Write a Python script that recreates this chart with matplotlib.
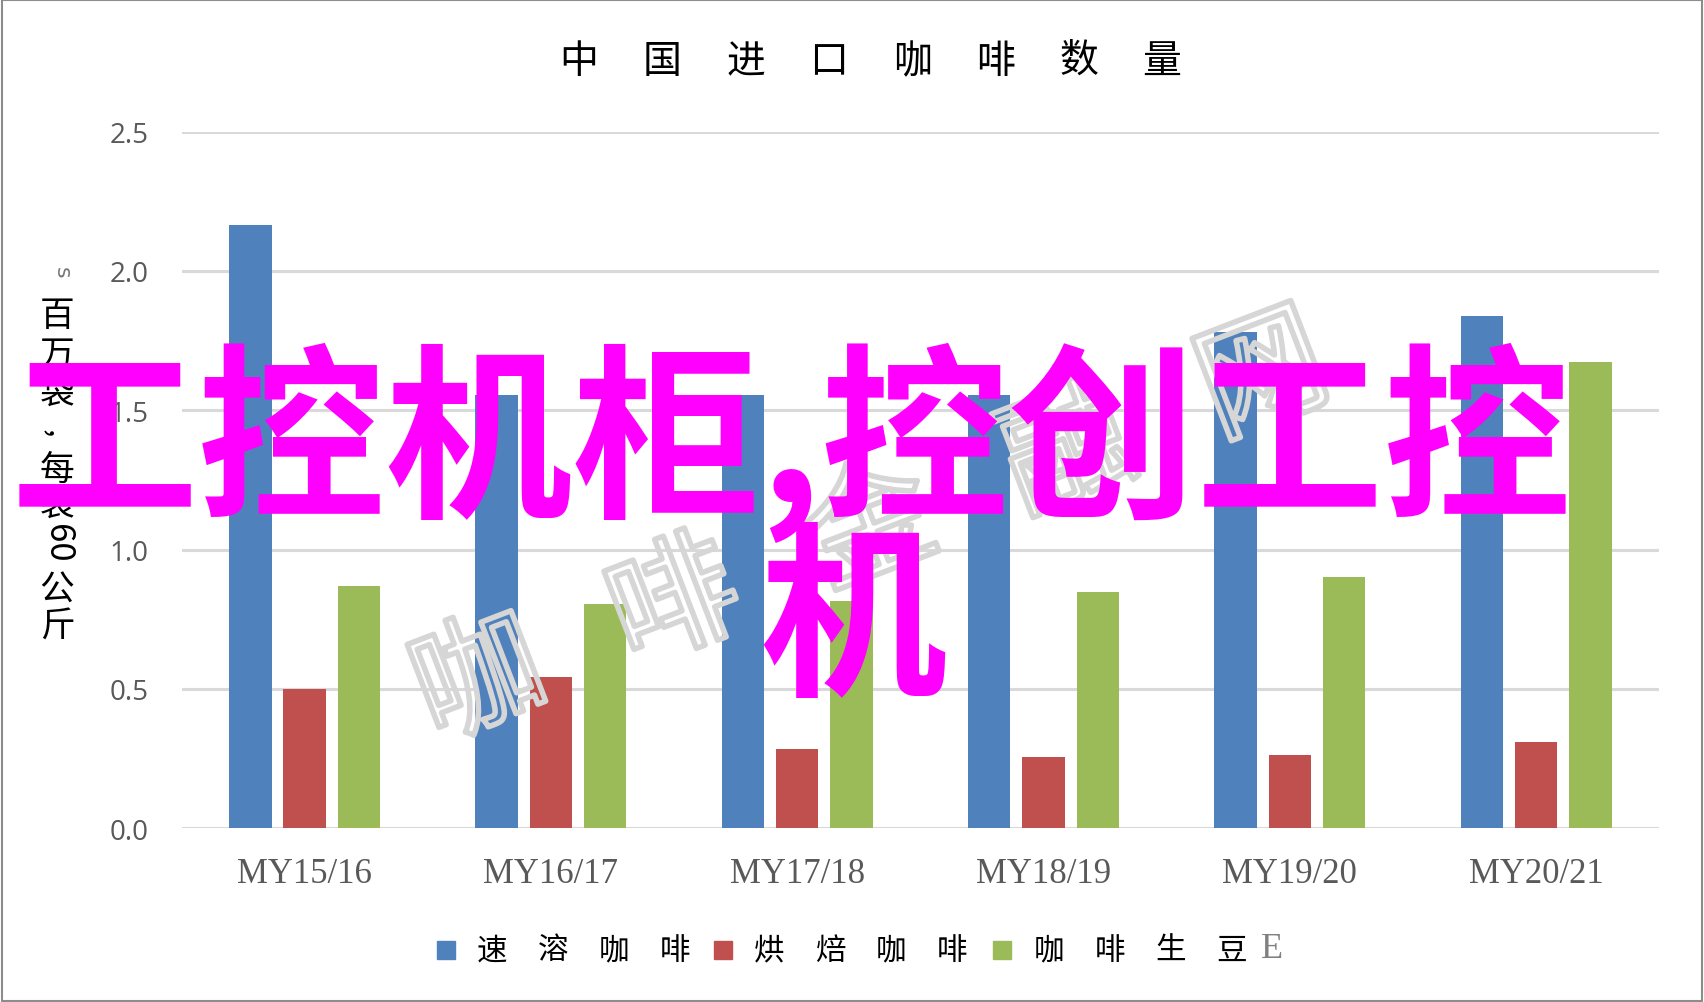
import matplotlib
matplotlib.use("Agg")
import matplotlib.pyplot as plt
import matplotlib.patheffects as pe
from matplotlib.patches import Rectangle
import numpy as np

categories = ["MY15/16", "MY16/17", "MY17/18", "MY18/19", "MY19/20", "MY20/21"]
instant = [2.165, 1.555, 1.555, 1.555, 1.78, 1.84]
roasted = [0.50, 0.543, 0.285, 0.254, 0.262, 0.308]
green_beans = [0.87, 0.804, 0.814, 0.849, 0.903, 1.672]
series_names = ["速溶咖啡", "烘焙咖啡", "咖啡生豆"]
colors = ["#4F81BD", "#C0504D", "#9BBB59"]
yticks = [0.0, 0.5, 1.0, 1.5, 2.0, 2.5]
title = "中国进口咖啡数量"
ylabel_parts = ["百", "万", "袋", ",", "每", "袋", "60", "公", "斤"]
overlay1 = "工控机柜,控创工控"
overlay2 = "机"
watermark = "咖啡金融网"

W, H = 1704, 1003
fig = plt.figure(figsize=(W / 100, H / 100), dpi=100)
cjk = ["Noto Sans CJK SC", "DejaVu Sans"]

ax = fig.add_axes([181.5 / W, 1 - 829.2 / H, (1659.4 - 181.5) / W, (829.2 - 132.6) / H])
x = np.arange(len(categories))
bw = 0.172
off = 0.2205
for i, (vals, c) in enumerate(zip([instant, roasted, green_beans], colors)):
    ax.bar(x + (i - 1) * off, vals, width=bw, color=c, zorder=3)

ax.set_xlim(-0.5, 5.5)
ax.set_ylim(0, 2.5)
ax.set_yticks(yticks)
ax.set_yticklabels([f"{v:.1f}" for v in yticks], family="Open Sans", fontsize=20, color="#595959")
ax.set_xticks(x)
ax.set_xticklabels(categories, family="Liberation Serif", fontsize=25, color="#595959")
ax.tick_params(axis="both", length=0)
ax.tick_params(axis="y", pad=24)
ax.tick_params(axis="x", pad=21)
for s in ax.spines.values():
    s.set_visible(False)
ax.grid(axis="y", color="#d9d9d9", linewidth=2.2, zorder=0)
ax.set_axisbelow(True)

# title characters spaced out
tx0, tstep = 579, 83.3
for i, ch in enumerate(title):
    fig.text((tx0 + i * tstep) / W, 1 - 62 / H, ch, family=cjk, fontsize=28,
             ha="center", va="center", color="black")

# vertical y label (stacked)
ypos = [317, 355, 394, 433, 470, 506, 543, 590, 627]
for part, yy in zip(ylabel_parts, ypos):
    rot = -90 if (part.isdigit() or part == ",") else 0
    fs = 22 if part == "," else 25
    fig.text(57 / W, 1 - yy / H, part, family=cjk, fontsize=fs, ha="center",
             va="center", rotation=rot, color="black")
fig.text(62 / W, 1 - 273 / H, "s", family="DejaVu Sans", fontsize=16, rotation=-90,
         ha="center", va="center", color="#777777")

# legend
leg_y = 951
sq_x = [437, 714, 993]
char_x0 = [492, 769, 1049]
cstep = 61
for name, c, sx, cx in zip(series_names, colors, sq_x, char_x0):
    fig.patches.append(Rectangle((sx / W, 1 - (leg_y + 9) / H), 18 / W, 18 / H,
                                 transform=fig.transFigure, color=c))
    for j, ch in enumerate(name):
        fig.text((cx + j * cstep) / W, 1 - leg_y / H, ch, family=cjk, fontsize=22,
                 ha="center", va="center", color="black")
fig.text(1272 / W, 1 - 949 / H, "E", family="Liberation Serif", fontsize=26,
         ha="center", va="center", color="#808080")

# gray outlined watermark
wx0, wy0, dx, dy = 480, 684, 196, -76
for i, ch in enumerate(watermark):
    fig.text((wx0 + i * dx) / W, 1 - (wy0 + i * dy) / H, ch, family=cjk, fontsize=92,
             ha="center", va="center", rotation=21, color=(1, 1, 1, 0),
             path_effects=[pe.Stroke(linewidth=4, foreground="#d6d6d6")], zorder=5)

# magenta overlay
fig.text(11 / W, 1 - 443 / H, overlay1, family=cjk, fontsize=135, weight="bold",
         ha="left", va="center", color="#FF00FF", zorder=10)
fig.text(853 / W, 1 - 626 / H, overlay2, family=cjk, fontsize=135, weight="bold",
         ha="center", va="center", color="#FF00FF", zorder=10)

# border
fig.patches.append(Rectangle((0.001, 0.001), 0.998, 0.998, transform=fig.transFigure,
                             fill=False, edgecolor="#8c8c8c", linewidth=1.5))

fig.savefig("out.png", dpi=100)
